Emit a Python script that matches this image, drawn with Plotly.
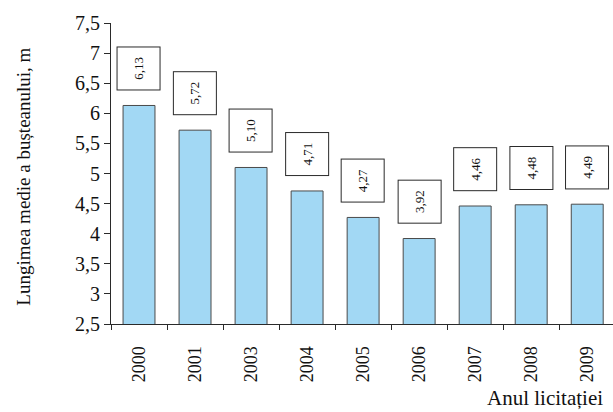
import plotly.graph_objects as go

# Average log length per auction year
years = ["2000", "2001", "2003", "2004", "2005", "2006", "2007", "2008", "2009"]
lengths = [6.13, 5.72, 5.10, 4.71, 4.27, 3.92, 4.46, 4.48, 4.49]

y_ticks = [2.5, 3.0, 3.5, 4.0, 4.5, 5.0, 5.5, 6.0, 6.5, 7.0, 7.5]
y_tick_text = ["2,5", "3", "3,5", "4", "4,5", "5", "5,5", "6", "6,5", "7", "7,5"]

SERIF = "Liberation Serif"
INK = "#2a2a2a"


def fmt(v):
    return f"{v:.2f}".replace(".", ",")


fig = go.Figure(
    go.Bar(
        x=years,
        y=lengths,
        base=0,
        width=0.57,
        marker=dict(color="#a2d8f4", line=dict(color="#4a4a4a", width=1)),
        hoverinfo="x+y",
    )
)

# Boxed, rotated value labels above the bars (category index on x)
for i, v in enumerate(lengths):
    fig.add_annotation(
        x=i,
        y=v,
        xref="x",
        yref="y",
        text=fmt(v),
        textangle=-90,
        showarrow=False,
        yanchor="bottom",
        yshift=15,
        width=40,
        height=40,
        borderpad=1,
        bordercolor=INK,
        borderwidth=1,
        bgcolor="white",
        font=dict(family=SERIF, size=13, color="#111"),
    )

# Axis titles
fig.add_annotation(
    text="Lungimea medie a bușteanului, m",
    xref="paper",
    yref="paper",
    x=-0.175,
    y=0.49,
    textangle=-90,
    showarrow=False,
    xanchor="center",
    yanchor="middle",
    font=dict(family=SERIF, size=19, color="#111"),
)
fig.add_annotation(
    text="Anul licitației",
    xref="paper",
    yref="paper",
    x=0.984,
    y=-0.246,
    showarrow=False,
    xanchor="right",
    yanchor="middle",
    font=dict(family=SERIF, size=21, color="#111"),
)

fig.update_layout(
    width=613,
    height=412,
    margin=dict(l=111, r=0, t=23, b=88),
    plot_bgcolor="white",
    paper_bgcolor="white",
    showlegend=False,
    font=dict(family=SERIF),
)
fig.update_xaxes(
    type="category",
    range=[-0.5, 8.46],
    tickson="boundaries",
    ticks="outside",
    ticklen=5,
    tickcolor=INK,
    tickangle=-90,
    showline=True,
    linecolor=INK,
    linewidth=1,
    showgrid=False,
    tickfont=dict(family=SERIF, size=18, color="#111"),
    ticklabelstandoff=14,
)
fig.update_yaxes(
    range=[2.5, 7.5],
    tickvals=y_ticks,
    ticktext=y_tick_text,
    ticks="outside",
    ticklen=6,
    tickcolor=INK,
    showline=True,
    linecolor=INK,
    linewidth=1,
    showgrid=False,
    zeroline=False,
    tickfont=dict(family=SERIF, size=20, color="#111"),
)

fig.write_html("out.html")
